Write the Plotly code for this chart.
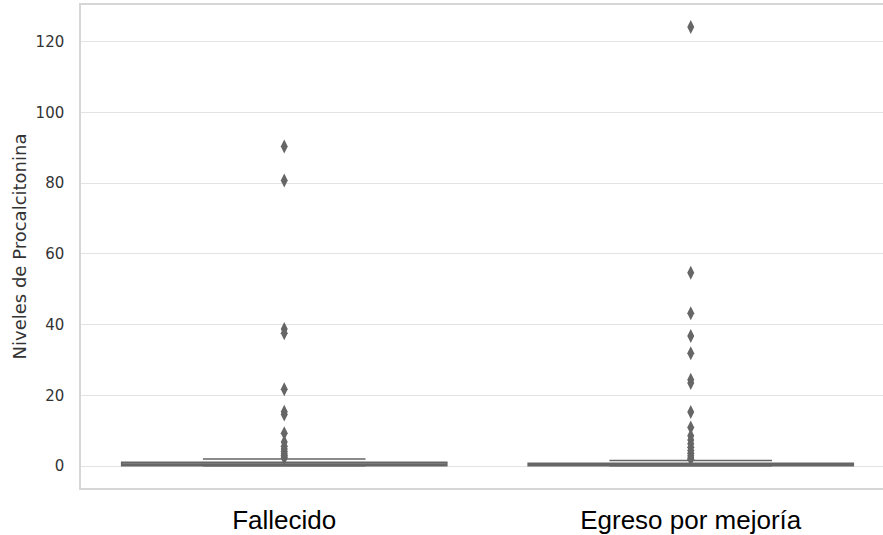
import plotly.graph_objects as go

categories = ["Fallecido", "Egreso por mejoría"]
q1 = [0.1, 0.1]
median = [0.4, 0.3]
q3 = [1.1, 0.8]
lower_fence = [0.0, 0.0]
upper_fence = [2.0, 1.6]
outliers_fallecido = [90.4, 80.8, 38.8, 37.6, 21.7, 15.4, 14.6, 9.3, 6.8, 5.6, 4.8, 4.1, 3.5, 3.0, 2.6, 2.3]
outliers_egreso = [124.2, 54.7, 43.2, 36.8, 31.9, 24.4, 23.5, 15.3, 10.9, 8.6, 7.4, 6.3, 5.3, 4.4, 3.6, 2.9, 2.3, 1.9]
yticks = [0, 20, 40, 60, 80, 100, 120]

line_color = "#666666"
fig = go.Figure()
fig.add_trace(go.Box(
    x=[0, 1], q1=q1, median=median, q3=q3,
    lowerfence=lower_fence, upperfence=upper_fence,
    width=0.8, whiskerwidth=0.5,
    fillcolor="#7a7a7a", line=dict(color=line_color, width=1.5),
    boxpoints=False, showlegend=False, hoverinfo="skip",
))
for i, vals in enumerate([outliers_fallecido, outliers_egreso]):
    fig.add_trace(go.Scatter(
        x=[i] * len(vals), y=vals, mode="markers",
        marker=dict(symbol="diamond-tall", size=10, color=line_color,
                    line=dict(width=0)),
        showlegend=False, hoverinfo="y",
    ))

fig.update_layout(
    width=883, height=535,
    margin=dict(l=81, r=0, t=5, b=45),
    paper_bgcolor="white", plot_bgcolor="white",
    font=dict(family="DejaVu Sans", color="#262626"),
    xaxis=dict(
        range=[-0.5, 1.473], tickmode="array", tickvals=[0, 1], ticktext=categories,
        tickfont=dict(family="Liberation Sans", size=26, color="#000000"),
        showgrid=False, zeroline=False, showline=True, mirror=True,
        linecolor="#d6d6d6", linewidth=1.5, ticks="", ticklabelstandoff=8,
    ),
    yaxis=dict(
        range=[-6.2, 130.4], tickmode="array", tickvals=yticks,
        ticktext=[str(v) for v in yticks],
        tickfont=dict(size=15, color="#333333"),
        title=dict(text="Niveles de Procalcitonina", font=dict(size=18, color="#333333"), standoff=4),
        showgrid=True, gridcolor="#e3e3e3", gridwidth=1, zeroline=False,
        showline=True, linecolor="#d6d6d6", linewidth=1.5, ticks="", ticklabelstandoff=12,
    ),
)
fig.write_html("out.html")
